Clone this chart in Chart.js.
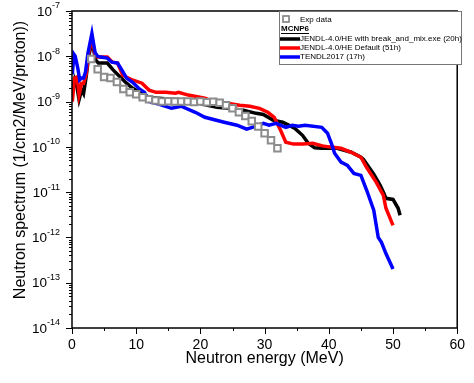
<!DOCTYPE html>
<html>
<head>
<meta charset="utf-8">
<script src="https://cdn.jsdelivr.net/npm/chart.js@4.4.1/dist/chart.umd.min.js"></script>
<style>
  html, body { margin: 0; padding: 0; background: #fff; }
</style>
</head>
<body>
<canvas id="chart" width="474" height="383"></canvas>
<script>
const expEnergy = [3, 4, 5, 6, 7, 8, 9, 10, 11, 12, 13, 14, 15, 16, 17, 18, 19, 20, 21, 22,
  23, 24, 25, 26, 27, 28, 29, 30, 31, 32]
const expFlux = [8.7e-9, 5.2e-9, 3.5e-9, 3.3e-9, 2.7e-9, 1.9e-9, 1.6e-9, 1.45e-9, 1.25e-9, 1.12e-9,
  1.05e-9, 1.0e-9, 1.02e-9, 1.0e-9, 1.0e-9, 1.0e-9, 0.98e-9, 1.0e-9, 0.97e-9, 0.99e-9,
  9.4e-10, 8.3e-10, 7.1e-10, 5.8e-10, 4.8e-10, 3.7e-10, 2.8e-10, 2.0e-10, 1.4e-10, 9.3e-11]

// MCNP6 with JENDL-4.0/HE + break_and_mix.exe
const breakEnergy = [0.1, 0.4, 0.8, 1.1, 1.5, 1.8, 2.2, 2.6, 3.1, 3.7, 4.1, 5.5, 6.4, 7.5, 8.5,
  9.4, 10.5, 12.0, 13.5, 15.5, 18.0, 19.2, 21.1, 22.6, 24.2, 26.7, 28.7, 29.8, 31.3, 32.8,
  34.0, 34.8, 35.9, 36.8, 37.8, 38.9, 41.3, 43.5, 45.0, 45.4, 47.0, 48.0, 48.5, 48.9, 50.0,
  50.8, 51.1]
const breakFlux = [1.8e-9, 3.0e-9, 2.0e-9, 1.1e-9, 1.8e-9, 1.5e-9, 3.5e-9, 1.0e-8, 2.1e-8, 8.2e-9,
  7.1e-9, 7.1e-9, 5.0e-9, 3.5e-9, 2.55e-9, 1.98e-9, 1.61e-9, 1.25e-9, 1.19e-9, 1.13e-9,
  1.07e-9, 9.7e-10, 8.3e-10, 7.5e-10, 7.1e-10, 6.45e-10, 5.5e-10, 5.2e-10, 3.9e-10, 3.5e-10,
  2.9e-10, 2.5e-10, 1.8e-10, 1.2e-10, 9.5e-11, 9.3e-11, 9.3e-11, 7.6e-11, 5.9e-11, 5.3e-11,
  2.5e-11, 1.42e-11, 1.0e-11, 7.3e-12, 6.9e-12, 4.4e-12, 3.1e-12]

// MCNP6 with JENDL-4.0/HE default
const defaultEnergy = [0.05, 0.4, 0.8, 1.1, 1.5, 1.8, 2.2, 2.6, 3.1, 3.6, 4.0, 5.5, 6.3, 7.1, 7.9,
  9.4, 10.9, 12.0, 13.1, 14.6, 16.1, 16.6, 18.1, 20.7, 22.2, 24.2, 26.1, 27.7, 29.2, 30.5,
  31.5, 32.5, 33.3, 34.5, 36.0, 37.5, 39.0, 40.0, 41.9, 43.5, 45.0, 45.9, 47.4, 48.5, 48.9,
  50.0]
const defaultFlux = [1.0e-9, 3.3e-9, 3.5e-9, 1.4e-9, 2.5e-9, 2.5e-9, 4.0e-9, 1.2e-8, 2.5e-8, 1.06e-8,
  9.6e-9, 9.6e-9, 7.4e-9, 7.1e-9, 3.8e-9, 3.0e-9, 2.55e-9, 1.79e-9, 1.6e-9, 1.6e-9,
  1.53e-9, 1.6e-9, 1.39e-9, 1.19e-9, 9.7e-10, 9.2e-10, 8.3e-10, 7.9e-10, 7.1e-10, 5.8e-10,
  4.5e-10, 2.3e-10, 1.26e-10, 1.15e-10, 1.15e-10, 1.2e-10, 1.05e-10, 1.0e-10, 9.3e-11, 7.6e-11,
  5.9e-11, 3.5e-11, 1.65e-11, 8.5e-12, 4.4e-12, 1.85e-12]

// MCNP6 with TENDL2017
const tendlEnergy = [0.05, 0.3, 0.5, 0.9, 1.2, 1.5, 1.8, 2.1, 2.5, 3.1, 3.6, 4.0, 4.4, 5.5, 6.2,
  7.1, 7.75, 8.5, 9.4, 10.5, 11.3, 12.0, 13.5, 15.5, 17.0, 19.2, 20.7, 23.7, 25.7, 27.2,
  28.7, 29.8, 30.7, 31.8, 33.3, 34.3, 35.3, 36.3, 38.9, 39.8, 40.4, 40.9, 41.9, 42.9, 43.9,
  45.0, 45.9, 47.0, 47.7, 48.2, 48.9, 50.0]
const tendlFlux = [4.0e-9, 1.1e-8, 1.0e-8, 5.5e-9, 3.0e-9, 3.3e-9, 3.3e-9, 4.5e-9, 1.2e-8, 3.2e-8,
  1.2e-8, 1.0e-8, 9.6e-9, 9.1e-9, 7.4e-9, 7.1e-9, 5.0e-9, 3.3e-9, 2.7e-9, 1.9e-9,
  1.6e-9, 1.0e-9, 8.8e-10, 7.1e-10, 7.9e-10, 5.8e-10, 4.5e-10, 3.5e-10, 3.0e-10, 2.45e-10,
  2.86e-10, 3.3e-10, 3.0e-10, 3.3e-10, 2.7e-10, 3.0e-10, 2.86e-10, 3.0e-10, 2.7e-10, 2.0e-10,
  1.2e-10, 7.2e-11, 4.6e-11, 3.9e-11, 2.6e-11, 2.35e-11, 1.1e-11, 4.0e-12, 1.0e-12, 7.8e-13,
  4.4e-13, 2.0e-13]

const xTicks = [0, 10, 20, 30, 40, 50, 60]
const yExponents = [-14, -13, -12, -11, -10, -9, -8, -7]

const FONT = '"Liberation Sans", Arial, sans-serif'
const EXP_GREY = "#8c8c8c"

const toPoints = (xs, ys) => xs.map((x, i) => ({ x, y: ys[i] }))

const lineSet = (label, xs, ys, color) => ({
  label,
  data: toPoints(xs, ys),
  showLine: true,
  borderColor: color,
  backgroundColor: color,
  borderWidth: 3.5,
  pointRadius: 0,
  tension: 0,
})

// frame, axis ticks, y labels with superscripts, y title and legend
const decorations = {
  id: "decorations",
  afterDraw(chart) {
    const { ctx, chartArea: a, scales: { x, y } } = chart
    ctx.save()

    ctx.strokeStyle = "#000"
    ctx.lineWidth = 1.5
    ctx.strokeRect(a.left, a.top, a.right - a.left, a.bottom - a.top)

    // left axis ticks + labels
    ctx.lineWidth = 1
    ctx.fillStyle = "#000"
    yExponents.forEach((p, idx) => {
      for (let m = 1; m <= 9; m++) {
        if (idx === yExponents.length - 1 && m > 1) break
        const py = Math.round(y.getPixelForValue(m * Math.pow(10, p))) + 0.5
        const len = m === 1 ? 6 : 3
        ctx.beginPath()
        ctx.moveTo(a.left - len, py)
        ctx.lineTo(a.left, py)
        ctx.stroke()
      }
      const py = y.getPixelForValue(Math.pow(10, p))
      const sup = String(p)
      ctx.font = `9px ${FONT}`
      const supW = ctx.measureText(sup).width
      ctx.textBaseline = "middle"
      ctx.textAlign = "left"
      const right = a.left - 12
      ctx.fillText(sup, right - supW, py - 5)
      ctx.font = `13.5px ${FONT}`
      ctx.textAlign = "right"
      ctx.fillText("10", right - supW, py + 1)
    })

    // bottom axis ticks
    for (let v = 0; v <= 60; v += 5) {
      const px = Math.round(x.getPixelForValue(v)) + 0.5
      const len = v % 10 === 0 ? 6 : 3
      ctx.beginPath()
      ctx.moveTo(px, a.bottom)
      ctx.lineTo(px, a.bottom + len)
      ctx.stroke()
    }

    // y title
    ctx.save()
    ctx.translate(21, 160)
    ctx.rotate(-Math.PI / 2)
    ctx.font = `16px ${FONT}`
    ctx.textAlign = "center"
    ctx.textBaseline = "middle"
    ctx.fillText("Neutron spectrum (1/cm2/MeV/proton))", 0, 0)
    ctx.restore()

    // legend
    const lx = 279.5, ly = 11.5
    ctx.strokeStyle = "#777"
    ctx.lineWidth = 1
    ctx.fillStyle = "#fff"
    ctx.fillRect(lx, ly, 182, 53)
    ctx.strokeRect(lx, ly, 182, 53)

    ctx.strokeStyle = EXP_GREY
    ctx.lineWidth = 1.8
    ctx.strokeRect(283, 16, 6, 6)

    ctx.fillStyle = "#000"
    ctx.textAlign = "left"
    ctx.textBaseline = "middle"
    ctx.font = `8px ${FONT}`
    ctx.fillText("Exp data", 300, 19.5)

    ctx.font = `bold 8px ${FONT}`
    ctx.fillText("MCNP6", 281, 29)
    const mw = ctx.measureText("MCNP6").width
    ctx.fillRect(281, 33, mw, 1)

    const items = [
      ["JENDL-4.0/HE with break_and_mix.exe (20h)", "#000000", 39],
      ["JENDL-4.0/HE Default (51h)", "#ff0000", 48],
      ["TENDL2017 (17h)", "#0000ff", 57],
    ]
    ctx.font = `8px ${FONT}`
    items.forEach(([text, color, iy]) => {
      ctx.strokeStyle = color
      ctx.lineWidth = 3.5
      ctx.beginPath()
      ctx.moveTo(280, iy)
      ctx.lineTo(300, iy)
      ctx.stroke()
      ctx.fillStyle = "#000"
      ctx.fillText(text, 300, iy)
    })

    ctx.restore()
  }
}

new Chart(document.getElementById("chart"), {
  type: "scatter",
  data: {
    datasets: [
      {
        label: "Exp data",
        data: toPoints(expEnergy, expFlux),
        pointStyle: "rect",
        pointRadius: 4.6,
        borderWidth: 2,
        borderColor: EXP_GREY,
        backgroundColor: "#fff",
        showLine: false,
      },
      lineSet("TENDL2017 (17h)", tendlEnergy, tendlFlux, "#0000ff"),
      lineSet("JENDL-4.0/HE Default (51h)", defaultEnergy, defaultFlux, "#ff0000"),
      lineSet("JENDL-4.0/HE with break_and_mix.exe (20h)", breakEnergy, breakFlux, "#000000"),
    ]
  },
  options: {
    responsive: false,
    animation: false,
    devicePixelRatio: 1,
    layout: { padding: { left: 72, right: 8, top: 11, bottom: 0 } },
    plugins: {
      legend: { display: false },
      tooltip: { enabled: false },
    },
    scales: {
      x: {
        type: "linear",
        min: 0,
        max: 60,
        afterBuildTicks: scale => { scale.ticks = xTicks.map(value => ({ value })) },
        afterFit: scale => { scale.height = 55 },
        grid: { display: false, drawTicks: false },
        border: { display: false },
        ticks: {
          color: "#000",
          font: { family: FONT, size: 14 },
          padding: 9,
          maxRotation: 0,
          autoSkip: false,
        },
        title: {
          display: true,
          text: "Neutron energy (MeV)",
          color: "#000",
          font: { family: FONT, size: 16 },
          padding: { top: 0, bottom: 15 },
        },
      },
      y: {
        type: "logarithmic",
        display: false,
        min: 1e-14,
        max: 1e-7,
      }
    }
  },
  plugins: [decorations]
})
</script>
</body>
</html>
